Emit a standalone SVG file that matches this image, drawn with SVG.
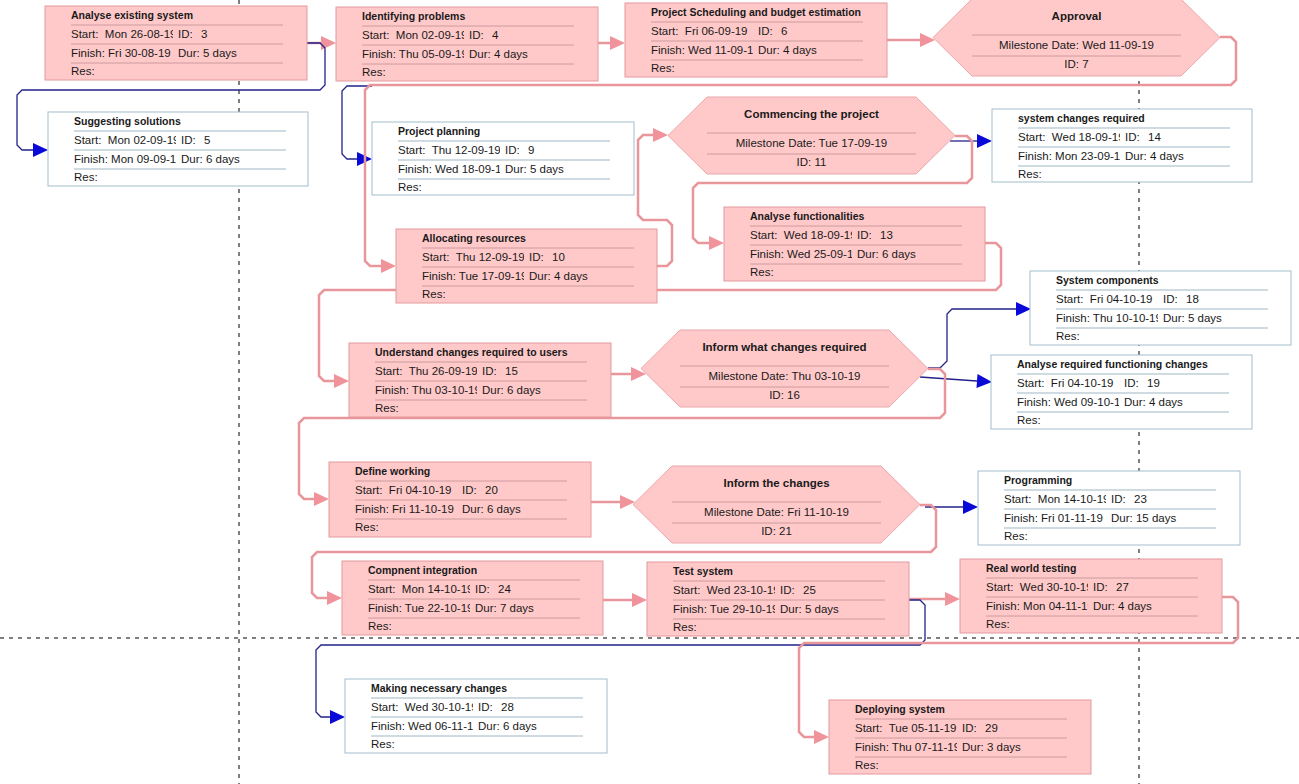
<svg xmlns="http://www.w3.org/2000/svg" width="1299" height="784" viewBox="0 0 1299 784">
<style>
text{font-family:"Liberation Sans",Arial,sans-serif;font-size:11.5px;fill:#1a1a1a;white-space:pre}
.t{font-size:10.5px;font-weight:bold}
.mt{font-size:11.5px;font-weight:bold;text-anchor:middle}
.md{text-anchor:middle}
.crit rect{fill:#FFC9C9;stroke:#E49A9E;stroke-width:1}
.crit line{stroke:#CE9A9C;stroke-width:1}
.nc rect{fill:#FFFFFF;stroke:#A2BDCC;stroke-width:1}
.nc line{stroke:#9FB6C4;stroke-width:1}
.ms polygon{fill:#FFC9C9;stroke:#E9A7AB;stroke-width:1}
.ms line{stroke:#CE9A9C;stroke-width:1}
.pk{fill:none;stroke:#E8959B;stroke-width:2.5;marker-end:url(#ap)}
.nv{fill:none;stroke:#22228A;stroke-width:1.3;marker-end:url(#ab)}
.pb{stroke:#000;stroke-width:1;stroke-dasharray:4 5;fill:none}
</style>
<defs>
<clipPath id="c1" clipPathUnits="userSpaceOnUse"><rect x="0" y="0" width="128" height="80"/></clipPath>
<marker id="ap" markerUnits="userSpaceOnUse" viewBox="0 0 15 14" markerWidth="15" markerHeight="14" refX="0" refY="7" orient="auto" overflow="visible"><path d="M0,0 L15,7 L0,14 z" fill="#F0939A"/></marker>
<marker id="ab" markerUnits="userSpaceOnUse" viewBox="0 0 15 14" markerWidth="15" markerHeight="14" refX="0" refY="7" orient="auto" overflow="visible"><path d="M0,0 L15,7 L0,14 z" fill="#0A0AD8"/></marker>
</defs>
<rect width="1299" height="784" fill="#FFFFFF"/>
<g id="pagebreaks">
<line class="pb" x1="239" y1="0" x2="239" y2="784"/>
<line class="pb" x1="1139" y1="0" x2="1139" y2="784"/>
<line class="pb" x1="0" y1="638" x2="1299" y2="638"/>
</g>
<g id="connectors">
<path class="pk" d="M307,43 H321"/>
<path class="nv" d="M307,43 H320 L325,48 V85 L320,90 H22 L17,95 V145 L22,150 H33"/>
<path class="pk" d="M598,43 H610"/>
<path class="nv" d="M372,86 H347 L342,91 V154 L347,159 H357"/>
<path class="pk" d="M887,40 H920"/>
<path class="pk" d="M1220,37 H1231 L1236,42 V80 L1231,85 H370 L365,90 V261 L370,266 H381"/>
<path class="pk" d="M657,266 H667 L672,261 V225 L667,220 H643 L638,215 V140 L643,135 H653"/>
<path class="nv" d="M950,141 H977"/>
<path class="pk" d="M955,136 H967 L972,141 V178 L967,183 H698 L693,188 V238 L698,243 H709"/>
<path class="pk" d="M985,243 H996 L1001,248 V285 L996,290 H324 L319,295 V376 L324,381 H334"/>
<path class="pk" d="M611,374 H631"/>
<path class="nv" d="M928,368 H940 L947,361 V314 L952,309 H1016"/>
<path class="nv" d="M920,377 L977,381"/>
<path class="pk" d="M928,369 H940 L945,374 V413 L940,418 H304 L299,423 V494 L304,499 H314"/>
<path class="pk" d="M591,502 H620"/>
<path class="nv" d="M925,507 H963"/>
<path class="pk" d="M920,505 H931 L936,510 V547 L931,552 H317 L312,557 V593 L317,598 H327"/>
<path class="pk" d="M603,600 H632"/>
<path class="pk" d="M909,599 H945"/>
<path class="nv" d="M909,600 H920 L925,605 V640 L920,645 H321 L316,650 V712 L321,717 H330"/>
<path class="pk" d="M1222,597 H1233 L1238,602 V638 L1233,643 H804 L799,648 V732 L804,737 H814"/>
</g>

<g id="n3" class="crit" transform="translate(45,6)">
<rect width="262" height="74"/>
<text class="t" x="26" y="13">Analyse existing system</text>
<line x1="26" y1="19" x2="238" y2="19"/><line x1="26" y1="38" x2="238" y2="38"/><line x1="26" y1="57" x2="238" y2="57"/>
<text x="26" y="32" clip-path="url(#c1)">Start:  Mon 26-08-19</text><text x="133" y="32">ID:</text><text x="156" y="32">3</text>
<text x="26" y="51" clip-path="url(#c1)">Finish: Fri 30-08-19</text><text x="133" y="51">Dur: 5 days</text>
<text x="26" y="69">Res:</text>
</g>

<g id="n4" class="crit" transform="translate(336,7)">
<rect width="262" height="74"/>
<text class="t" x="26" y="13">Identifying problems</text>
<line x1="26" y1="19" x2="238" y2="19"/><line x1="26" y1="38" x2="238" y2="38"/><line x1="26" y1="57" x2="238" y2="57"/>
<text x="26" y="32" clip-path="url(#c1)">Start:  Mon 02-09-19</text><text x="133" y="32">ID:</text><text x="156" y="32">4</text>
<text x="26" y="51" clip-path="url(#c1)">Finish: Thu 05-09-19</text><text x="133" y="51">Dur: 4 days</text>
<text x="26" y="69">Res:</text>
</g>

<g id="n6" class="crit" transform="translate(625,3)">
<rect width="262" height="74"/>
<text class="t" x="26" y="13">Project Scheduling and budget estimation</text>
<line x1="26" y1="19" x2="238" y2="19"/><line x1="26" y1="38" x2="238" y2="38"/><line x1="26" y1="57" x2="238" y2="57"/>
<text x="26" y="32" clip-path="url(#c1)">Start:  Fri 06-09-19</text><text x="133" y="32">ID:</text><text x="156" y="32">6</text>
<text x="26" y="51" clip-path="url(#c1)">Finish: Wed 11-09-19</text><text x="133" y="51">Dur: 4 days</text>
<text x="26" y="69">Res:</text>
</g>

<g id="n7" class="ms" transform="translate(933,-1)">
<polygon points="0,38.5 39,0 248,0 287,38.5 248,77 39,77"/>
<text class="mt" x="143.5" y="21">Approval</text>
<line x1="39" y1="36" x2="248" y2="36"/><line x1="39" y1="57" x2="248" y2="57"/>
<text class="md" x="143.5" y="50">Milestone Date: Wed 11-09-19</text>
<text class="md" x="143.5" y="69">ID: 7</text>
</g>

<g id="n5" class="nc" transform="translate(48,112)">
<rect width="260" height="74"/>
<text class="t" x="26" y="13">Suggesting solutions</text>
<line x1="26" y1="19" x2="238" y2="19"/><line x1="26" y1="38" x2="238" y2="38"/><line x1="26" y1="57" x2="238" y2="57"/>
<text x="26" y="32" clip-path="url(#c1)">Start:  Mon 02-09-19</text><text x="133" y="32">ID:</text><text x="156" y="32">5</text>
<text x="26" y="51" clip-path="url(#c1)">Finish: Mon 09-09-19</text><text x="133" y="51">Dur: 6 days</text>
<text x="26" y="69">Res:</text>
</g>

<g id="n9" class="nc" transform="translate(372,122)">
<rect width="262" height="73"/>
<text class="t" x="26" y="13">Project planning</text>
<line x1="26" y1="19" x2="238" y2="19"/><line x1="26" y1="38" x2="238" y2="38"/><line x1="26" y1="57" x2="238" y2="57"/>
<text x="26" y="32" clip-path="url(#c1)">Start:  Thu 12-09-19</text><text x="133" y="32">ID:</text><text x="156" y="32">9</text>
<text x="26" y="51" clip-path="url(#c1)">Finish: Wed 18-09-19</text><text x="133" y="51">Dur: 5 days</text>
<text x="26" y="69">Res:</text>
</g>

<g id="n11" class="ms" transform="translate(668,97)">
<polygon points="0,38.5 39,0 248,0 287,38.5 248,77 39,77"/>
<text class="mt" x="143.5" y="21">Commencing the project</text>
<line x1="39" y1="36" x2="248" y2="36"/><line x1="39" y1="57" x2="248" y2="57"/>
<text class="md" x="143.5" y="50">Milestone Date: Tue 17-09-19</text>
<text class="md" x="143.5" y="69">ID: 11</text>
</g>

<g id="n14" class="nc" transform="translate(992,109)">
<rect width="260" height="73"/>
<text class="t" x="26" y="13">system changes required</text>
<line x1="26" y1="19" x2="238" y2="19"/><line x1="26" y1="38" x2="238" y2="38"/><line x1="26" y1="57" x2="238" y2="57"/>
<text x="26" y="32" clip-path="url(#c1)">Start:  Wed 18-09-19</text><text x="133" y="32">ID:</text><text x="156" y="32">14</text>
<text x="26" y="51" clip-path="url(#c1)">Finish: Mon 23-09-19</text><text x="133" y="51">Dur: 4 days</text>
<text x="26" y="69">Res:</text>
</g>

<g id="n10" class="crit" transform="translate(396,229)">
<rect width="261" height="74"/>
<text class="t" x="26" y="13">Allocating resources</text>
<line x1="26" y1="19" x2="238" y2="19"/><line x1="26" y1="38" x2="238" y2="38"/><line x1="26" y1="57" x2="238" y2="57"/>
<text x="26" y="32" clip-path="url(#c1)">Start:  Thu 12-09-19</text><text x="133" y="32">ID:</text><text x="156" y="32">10</text>
<text x="26" y="51" clip-path="url(#c1)">Finish: Tue 17-09-19</text><text x="133" y="51">Dur: 4 days</text>
<text x="26" y="69">Res:</text>
</g>

<g id="n13" class="crit" transform="translate(724,207)">
<rect width="261" height="74"/>
<text class="t" x="26" y="13">Analyse functionalities</text>
<line x1="26" y1="19" x2="238" y2="19"/><line x1="26" y1="38" x2="238" y2="38"/><line x1="26" y1="57" x2="238" y2="57"/>
<text x="26" y="32" clip-path="url(#c1)">Start:  Wed 18-09-19</text><text x="133" y="32">ID:</text><text x="156" y="32">13</text>
<text x="26" y="51" clip-path="url(#c1)">Finish: Wed 25-09-19</text><text x="133" y="51">Dur: 6 days</text>
<text x="26" y="69">Res:</text>
</g>

<g id="n18" class="nc" transform="translate(1030,271)">
<rect width="261" height="74"/>
<text class="t" x="26" y="13">System components</text>
<line x1="26" y1="19" x2="238" y2="19"/><line x1="26" y1="38" x2="238" y2="38"/><line x1="26" y1="57" x2="238" y2="57"/>
<text x="26" y="32" clip-path="url(#c1)">Start:  Fri 04-10-19</text><text x="133" y="32">ID:</text><text x="156" y="32">18</text>
<text x="26" y="51" clip-path="url(#c1)">Finish: Thu 10-10-19</text><text x="133" y="51">Dur: 5 days</text>
<text x="26" y="69">Res:</text>
</g>

<g id="n19" class="nc" transform="translate(991,355)">
<rect width="261" height="74"/>
<text class="t" x="26" y="13">Analyse required functioning changes</text>
<line x1="26" y1="19" x2="238" y2="19"/><line x1="26" y1="38" x2="238" y2="38"/><line x1="26" y1="57" x2="238" y2="57"/>
<text x="26" y="32" clip-path="url(#c1)">Start:  Fri 04-10-19</text><text x="133" y="32">ID:</text><text x="156" y="32">19</text>
<text x="26" y="51" clip-path="url(#c1)">Finish: Wed 09-10-19</text><text x="133" y="51">Dur: 4 days</text>
<text x="26" y="69">Res:</text>
</g>

<g id="n15" class="crit" transform="translate(349,343)">
<rect width="262" height="74"/>
<text class="t" x="26" y="13">Understand changes required to users</text>
<line x1="26" y1="19" x2="238" y2="19"/><line x1="26" y1="38" x2="238" y2="38"/><line x1="26" y1="57" x2="238" y2="57"/>
<text x="26" y="32" clip-path="url(#c1)">Start:  Thu 26-09-19</text><text x="133" y="32">ID:</text><text x="156" y="32">15</text>
<text x="26" y="51" clip-path="url(#c1)">Finish: Thu 03-10-19</text><text x="133" y="51">Dur: 6 days</text>
<text x="26" y="69">Res:</text>
</g>

<g id="n16" class="ms" transform="translate(641,330)">
<polygon points="0,38.5 39,0 248,0 287,38.5 248,77 39,77"/>
<text class="mt" x="143.5" y="21">Inform what changes required</text>
<line x1="39" y1="36" x2="248" y2="36"/><line x1="39" y1="57" x2="248" y2="57"/>
<text class="md" x="143.5" y="50">Milestone Date: Thu 03-10-19</text>
<text class="md" x="143.5" y="69">ID: 16</text>
</g>

<g id="n20" class="crit" transform="translate(329,462)">
<rect width="262" height="75"/>
<text class="t" x="26" y="13">Define working</text>
<line x1="26" y1="19" x2="238" y2="19"/><line x1="26" y1="38" x2="238" y2="38"/><line x1="26" y1="57" x2="238" y2="57"/>
<text x="26" y="32" clip-path="url(#c1)">Start:  Fri 04-10-19</text><text x="133" y="32">ID:</text><text x="156" y="32">20</text>
<text x="26" y="51" clip-path="url(#c1)">Finish: Fri 11-10-19</text><text x="133" y="51">Dur: 6 days</text>
<text x="26" y="69">Res:</text>
</g>

<g id="n21" class="ms" transform="translate(633,466)">
<polygon points="0,38.5 39,0 248,0 287,38.5 248,77 39,77"/>
<text class="mt" x="143.5" y="21">Inform the changes</text>
<line x1="39" y1="36" x2="248" y2="36"/><line x1="39" y1="57" x2="248" y2="57"/>
<text class="md" x="143.5" y="50">Milestone Date: Fri 11-10-19</text>
<text class="md" x="143.5" y="69">ID: 21</text>
</g>

<g id="n23" class="nc" transform="translate(978,471)">
<rect width="262" height="74"/>
<text class="t" x="26" y="13">Programming</text>
<line x1="26" y1="19" x2="238" y2="19"/><line x1="26" y1="38" x2="238" y2="38"/><line x1="26" y1="57" x2="238" y2="57"/>
<text x="26" y="32" clip-path="url(#c1)">Start:  Mon 14-10-19</text><text x="133" y="32">ID:</text><text x="156" y="32">23</text>
<text x="26" y="51" clip-path="url(#c1)">Finish: Fri 01-11-19</text><text x="133" y="51">Dur: 15 days</text>
<text x="26" y="69">Res:</text>
</g>

<g id="n24" class="crit" transform="translate(342,561)">
<rect width="261" height="74"/>
<text class="t" x="26" y="13">Compnent integration</text>
<line x1="26" y1="19" x2="238" y2="19"/><line x1="26" y1="38" x2="238" y2="38"/><line x1="26" y1="57" x2="238" y2="57"/>
<text x="26" y="32" clip-path="url(#c1)">Start:  Mon 14-10-19</text><text x="133" y="32">ID:</text><text x="156" y="32">24</text>
<text x="26" y="51" clip-path="url(#c1)">Finish: Tue 22-10-19</text><text x="133" y="51">Dur: 7 days</text>
<text x="26" y="69">Res:</text>
</g>

<g id="n25" class="crit" transform="translate(647,562)">
<rect width="262" height="74"/>
<text class="t" x="26" y="13">Test system</text>
<line x1="26" y1="19" x2="238" y2="19"/><line x1="26" y1="38" x2="238" y2="38"/><line x1="26" y1="57" x2="238" y2="57"/>
<text x="26" y="32" clip-path="url(#c1)">Start:  Wed 23-10-19</text><text x="133" y="32">ID:</text><text x="156" y="32">25</text>
<text x="26" y="51" clip-path="url(#c1)">Finish: Tue 29-10-19</text><text x="133" y="51">Dur: 5 days</text>
<text x="26" y="69">Res:</text>
</g>

<g id="n27" class="crit" transform="translate(960,559)">
<rect width="262" height="74"/>
<text class="t" x="26" y="13">Real world testing</text>
<line x1="26" y1="19" x2="238" y2="19"/><line x1="26" y1="38" x2="238" y2="38"/><line x1="26" y1="57" x2="238" y2="57"/>
<text x="26" y="32" clip-path="url(#c1)">Start:  Wed 30-10-19</text><text x="133" y="32">ID:</text><text x="156" y="32">27</text>
<text x="26" y="51" clip-path="url(#c1)">Finish: Mon 04-11-19</text><text x="133" y="51">Dur: 4 days</text>
<text x="26" y="69">Res:</text>
</g>

<g id="n28" class="nc" transform="translate(345,679)">
<rect width="262" height="74"/>
<text class="t" x="26" y="13">Making necessary changes</text>
<line x1="26" y1="19" x2="238" y2="19"/><line x1="26" y1="38" x2="238" y2="38"/><line x1="26" y1="57" x2="238" y2="57"/>
<text x="26" y="32" clip-path="url(#c1)">Start:  Wed 30-10-19</text><text x="133" y="32">ID:</text><text x="156" y="32">28</text>
<text x="26" y="51" clip-path="url(#c1)">Finish: Wed 06-11-19</text><text x="133" y="51">Dur: 6 days</text>
<text x="26" y="69">Res:</text>
</g>

<g id="n29" class="crit" transform="translate(829,700)">
<rect width="262" height="74"/>
<text class="t" x="26" y="13">Deploying system</text>
<line x1="26" y1="19" x2="238" y2="19"/><line x1="26" y1="38" x2="238" y2="38"/><line x1="26" y1="57" x2="238" y2="57"/>
<text x="26" y="32" clip-path="url(#c1)">Start:  Tue 05-11-19</text><text x="133" y="32">ID:</text><text x="156" y="32">29</text>
<text x="26" y="51" clip-path="url(#c1)">Finish: Thu 07-11-19</text><text x="133" y="51">Dur: 3 days</text>
<text x="26" y="69">Res:</text>
</g>
</svg>
